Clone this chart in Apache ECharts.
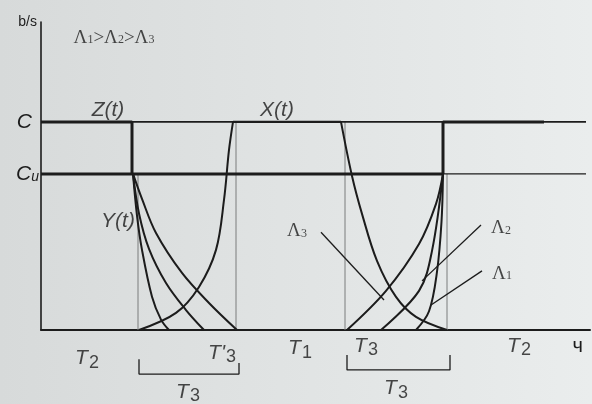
<!DOCTYPE html>
<html>
<head>
    <meta charset="UTF-8">
    <title>b/s</title>
    <script src="https://cdn.jsdelivr.net/npm/echarts@6/dist/echarts.min.js"></script>
    <style>
        html, body { margin: 0; padding: 0; background: #e2e5e5; }
        #main { width: 592px; height: 404px; }
    </style>
</head>
<body>
<div id="main"></div>
<script>
    // b/s levels and their tick names
    var yTickValues = [75, 100];
    var yTickNames = ['{c|C}{u|u}', '{c|C}{g|}'];

    // step levels (x = time, y = b/s)
    var zLeft = [[0, 100], [9.1, 100], [9.1, 75]];
    var cuLevel = [[0, 75], [40.2, 75]];
    var zRight = [[40.2, 75], [40.2, 100], [50.3, 100]];
    var cThin = [[9.1, 100], [54.5, 100]];
    var cuThin = [[40.2, 75], [54.5, 75]];
    var xAtC = [[19.2, 100], [30.0, 100]];

    // thin guide lines
    var guide1 = [[9.7, 75], [9.7, 0]];
    var guide2 = [[19.5, 100], [19.5, 0]];
    var guide3 = [[30.4, 100], [30.4, 0]];
    var guide4 = [[40.6, 75], [40.6, 0]];

    // Y(t) falling for the three intensities
    var yFast = [[9.2, 75], [9.6, 55], [10.1, 38.5], [11.1, 16], [12.0, 5], [12.8, 0]];
    var yMid = [[9.2, 75], [9.8, 56], [10.8, 39], [12.5, 22.6], [14.5, 9.6], [16.3, 0]];
    var ySlow = [[9.2, 75], [10.1, 63], [11.5, 46.6], [14.1, 27.4], [16.8, 13], [19.6, 0]];
    // X(t) rising, then falling
    var xRise = [[9.8, 0], [13.5, 8.2], [15.8, 20.7], [17.5, 38.5], [18.3, 62.5], [18.8, 86.5], [19.2, 100]];
    var xFall = [[30.0, 100], [31.1, 74], [32.1, 55.8], [33.6, 33.2], [35.5, 15.9], [37.5, 6.3], [40.6, 0]];
    // rising back to Cu
    var zRise3 = [[30.6, 0], [34.5, 18.8], [37.8, 41.3], [39.5, 60.6], [40.2, 75]];
    var zRise2 = [[34.0, 0], [37.8, 18.8], [39.1, 38], [40.2, 75]];
    var zRise1 = [[37.5, 0], [38.8, 9], [39.6, 28], [40.05, 52], [40.2, 75]];

    // pointers to the curves
    var lead3 = [[28.0, 47], [34.3, 14.4]];
    var lead2 = [[44.0, 50.5], [38.1, 23.6]];
    var lead1 = [[44.1, 28.4], [39.0, 12]];

    // brackets under the axis
    var bracketLeft = [[9.8, -14], [9.8, -21.2], [19.8, -21.2], [19.8, -15.9]];
    var bracketRight = [[30.6, -12], [30.6, -19.2], [40.9, -19.2], [40.9, -12]];

    // text notes
    var notes = [
        {name: 'Λ_1>Λ_2>Λ_3', value: [7.3, 140.4]},
        {name: 'Z(t)', value: [6.7, 105.8]},
        {name: 'X(t)', value: [23.6, 105.8]},
        {name: 'Y(t)', value: [7.7, 52.4]},
        {name: 'Λ_3', value: [25.6, 47.5]},
        {name: 'Λ_2', value: [46.0, 49]},
        {name: 'Λ_1', value: [46.1, 27]},
        {name: 'T_2', value: [4.6, -13.5]},
        {name: "T'_3", value: [18.1, -11]},
        {name: 'T_1', value: [25.9, -8.7]},
        {name: 'T_3', value: [32.5, -7.7]},
        {name: 'T_2', value: [47.8, -7.7]},
        {name: 'T_3', value: [14.7, -29.8]},
        {name: 'T_3', value: [35.5, -27.9]}
    ];

    var ink = '#1c1c1c';
    var sans = 'Liberation Sans';
    var serif = 'Liberation Serif';

    function seg(data, width, color, smooth) {
        return {
            type: 'line',
            data: data,
            symbol: 'none',
            silent: true,
            clip: false,
            smooth: smooth ? 0.35 : false,
            lineStyle: {color: color || ink, width: width}
        };
    }

    function richName(name) {
        var greek = name.indexOf('Λ') >= 0;
        var main = greek ? 'g' : 'i';
        var sub = greek ? 'n' : 's';
        return name.split(/_(\d)/).map(function (part, i) {
            if (part === '') return '';
            return '{' + (i % 2 ? sub : main) + '|' + part + '}';
        }).join('');
    }

    var series = [
        seg(guide1, 1, '#7a7c7c'),
        seg(guide2, 1, '#7a7c7c'),
        seg(guide3, 1, '#7a7c7c'),
        seg(guide4, 1, '#7a7c7c'),
        seg(cThin, 1.6),
        seg(cuThin, 1.4),
        seg(xAtC, 2.2),
        seg(zLeft, 3),
        seg(cuLevel, 3),
        seg(zRight, 3),
        seg(yFast, 2, null, true),
        seg(yMid, 2, null, true),
        seg(ySlow, 2, null, true),
        seg(xRise, 2, null, true),
        seg(xFall, 2, null, true),
        seg(zRise3, 2, null, true),
        seg(zRise2, 2, null, true),
        seg(zRise1, 2, null, true),
        seg(lead3, 1.3),
        seg(lead2, 1.3),
        seg(lead1, 1.3),
        seg(bracketLeft, 1.3),
        seg(bracketRight, 1.3),
        {
            type: 'scatter',
            data: notes,
            symbolSize: 0,
            silent: true,
            clip: false,
            label: {
                show: true,
                position: 'inside',
                formatter: function (p) { return richName(p.name); },
                rich: {
                    i: {fontFamily: sans, fontStyle: 'italic', fontSize: 21, color: ink},
                    s: {fontFamily: sans, fontSize: 18, color: ink, padding: [9, 0, 0, 1]},
                    g: {fontFamily: serif, fontSize: 19, color: ink},
                    n: {fontFamily: serif, fontSize: 12, color: ink, padding: [5, 0, 0, 0]}
                }
            }
        }
    ];

    var option = {
        backgroundColor: {
            type: 'linear', x: 0, y: 0, x2: 1, y2: 0,
            colorStops: [{offset: 0, color: '#d7dada'}, {offset: 1, color: '#eaeded'}]
        },
        animation: false,
        grid: {left: 41, right: 2, top: 22, bottom: 74},
        xAxis: {
            type: 'value',
            min: 0,
            max: 54.9,
            name: 'ч',
            nameLocation: 'end',
            nameGap: 0,
            nameTextStyle: {fontFamily: sans, fontSize: 20, color: ink, align: 'right', verticalAlign: 'top', padding: [6, 7, 0, 0]},
            axisLine: {lineStyle: {color: ink, width: 2}},
            axisTick: {show: false},
            axisLabel: {show: false},
            splitLine: {show: false}
        },
        yAxis: {
            type: 'value',
            min: 0,
            max: 148,
            interval: 25,
            name: 'b/s',
            nameLocation: 'end',
            nameGap: 0,
            nameTextStyle: {fontFamily: sans, fontSize: 14, color: ink, align: 'right', verticalAlign: 'middle', padding: [0, 4, 0, 0]},
            axisLine: {show: true, lineStyle: {color: ink, width: 1.6}},
            axisTick: {show: false},
            splitLine: {show: false},
            axisLabel: {
                margin: 2,
                formatter: function (v) {
                    var k = yTickValues.indexOf(v);
                    return k < 0 ? '' : yTickNames[k];
                },
                rich: {
                    c: {fontFamily: sans, fontStyle: 'italic', fontSize: 21, color: ink},
                    u: {fontFamily: sans, fontStyle: 'italic', fontSize: 14, color: ink, padding: [7, 0, 0, 0]},
                    g: {width: 7}
                }
            }
        },
        series: series
    };

    var myChart = echarts.init(document.getElementById('main'));
    myChart.setOption(option);
</script>
</body>
</html>
